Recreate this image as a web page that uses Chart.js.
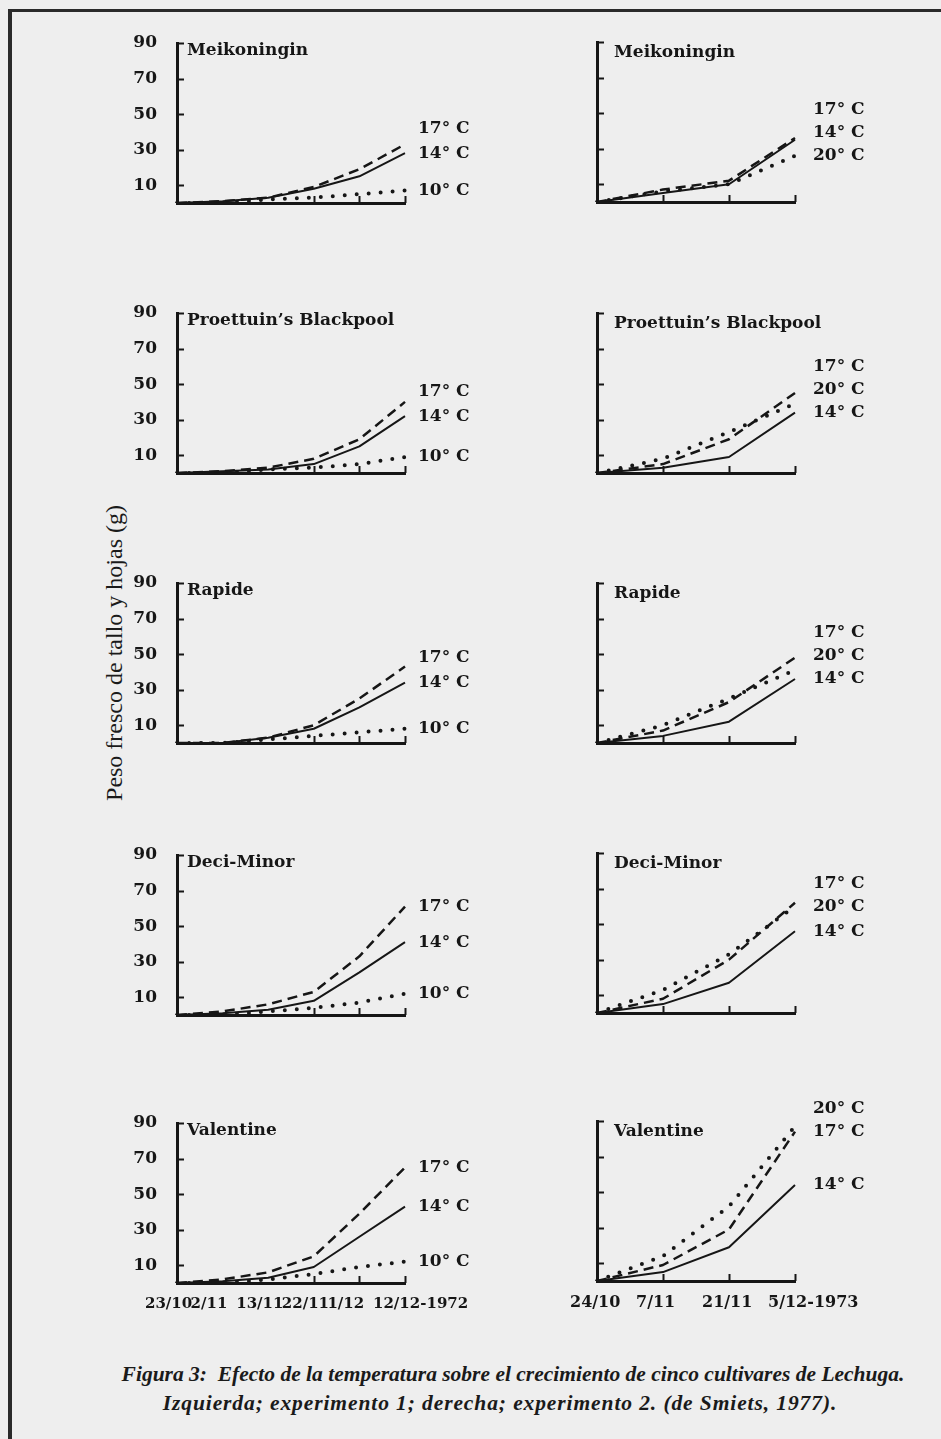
<!DOCTYPE html>
<html>
<head>
<meta charset="utf-8">
<script src="https://cdn.jsdelivr.net/npm/chart.js@4.4.1/dist/chart.umd.min.js"></script>
<style>
  body { margin: 0; background: #eeeeee; }
  #page { position: relative; width: 941px; height: 1439px; overflow: hidden; background: #eeeeee; }
  #frame { position: absolute; left: 8px; top: 9px; width: 940px; height: 1440px;
           border-left: 4px solid #2a2a2a; border-top: 3px solid #2a2a2a; }
  canvas { position: absolute; }
  #ytitle { position: absolute; left: -87px; top: 641px; width: 400px; height: 24px; line-height: 24px;
            text-align: center; transform: rotate(-90deg); font: 24px "Liberation Serif", serif; color: #1a1a1a; }
  .cap { position: absolute; width: 900px; text-align: center; white-space: nowrap;
         font: italic bold 21.5px "Liberation Serif", serif; line-height: 29px; color: #1a1a1a; }
  #cap1 { left: 63px; top: 1360px; }
  #cap2 { left: 50px; top: 1389px; letter-spacing: 0.9px; }
</style>
</head>
<body>
<div id="page">
  <div id="frame"></div>
  <div id="ytitle">Peso fresco de tallo y hojas (g)</div>
  <div class="cap" id="cap1">Figura 3:&nbsp; Efecto de la temperatura sobre el crecimiento de cinco cultivares de Lechuga.</div>
  <div class="cap" id="cap2">Izquierda; experimento 1; derecha; experimento 2. (de Smiets, 1977).</div>
</div>
<script>
// x categories and y ticks
const leftDates = ['23/10', '2/11', '13/11', '22/11', '1/12', '12/12-1972'];
const rightDates = ['24/10', '7/11', '21/11', '5/12-1973'];
const yTicks = [10, 30, 50, 70, 90];
const cultivars = ['Meikoningin', 'Proettuin\u2019s Blackpool', 'Rapide', 'Deci-Minor', 'Valentine'];

// experiment 1 (left), fresh weight in g
const meik1_10 = [0, 0, 2, 3, 5, 7];
const meik1_14 = [0, 1, 3, 8, 15, 28];
const meik1_17 = [0, 1, 3, 9, 19, 33];
const proe1_10 = [0, 0, 2, 3, 5, 9];
const proe1_14 = [0, 1, 2, 5, 15, 32];
const proe1_17 = [0, 1, 3, 8, 19, 40];
const rapi1_10 = [0, 0, 2, 4, 6, 8];
const rapi1_14 = [0, 0, 3, 8, 20, 34];
const rapi1_17 = [0, 0, 3, 10, 25, 43];
const deci1_10 = [0, 0, 2, 4, 7, 12];
const deci1_14 = [0, 1, 3, 8, 24, 41];
const deci1_17 = [0, 2, 6, 13, 33, 61];
const vale1_10 = [0, 0, 2, 5, 9, 12];
const vale1_14 = [0, 1, 3, 9, 26, 43];
const vale1_17 = [0, 2, 6, 15, 39, 65];

// experiment 2 (right)
const meik2_14 = [0, 5, 10, 35];
const meik2_17 = [0, 7, 12, 36];
const meik2_20 = [0, 6, 10, 26];
const proe2_14 = [0, 3, 9, 34];
const proe2_17 = [0, 5, 19, 45];
const proe2_20 = [0, 8, 23, 39];
const rapi2_14 = [0, 4, 12, 36];
const rapi2_17 = [0, 7, 23, 48];
const rapi2_20 = [0, 10, 25, 41];
const deci2_14 = [0, 5, 17, 46];
const deci2_17 = [0, 8, 30, 62];
const deci2_20 = [0, 13, 33, 60];
const vale2_14 = [0, 5, 19, 54];
const vale2_17 = [0, 9, 29, 84];
const vale2_20 = [0, 14, 42, 87];

const INK = '#161616';
const FONT = '"DejaVu Serif", serif';

function series(label, data, kind) {
    const s = { label: label, data: data, borderColor: INK, pointRadius: 0, tension: 0, fill: false, borderJoinStyle: 'round' };
    if (kind === 'dash') { s.borderWidth = 2.5; s.borderDash = [10, 6]; }
    else if (kind === 'dot') { s.borderWidth = 4; s.borderDash = [0, 12]; s.borderCapStyle = 'round'; }
    else { s.borderWidth = 2; }
    return s;
}

const panels = [
    { side: 'L', row: 0, sets: [series('10° C', meik1_10, 'dot'), series('14° C', meik1_14), series('17° C', meik1_17, 'dash')] },
    { side: 'L', row: 1, sets: [series('10° C', proe1_10, 'dot'), series('14° C', proe1_14), series('17° C', proe1_17, 'dash')] },
    { side: 'L', row: 2, sets: [series('10° C', rapi1_10, 'dot'), series('14° C', rapi1_14), series('17° C', rapi1_17, 'dash')] },
    { side: 'L', row: 3, sets: [series('10° C', deci1_10, 'dot'), series('14° C', deci1_14), series('17° C', deci1_17, 'dash')] },
    { side: 'L', row: 4, sets: [series('10° C', vale1_10, 'dot'), series('14° C', vale1_14), series('17° C', vale1_17, 'dash')] },
    { side: 'R', row: 0, sets: [series('14° C', meik2_14), series('17° C', meik2_17, 'dash'), series('20° C', meik2_20, 'dot')] },
    { side: 'R', row: 1, sets: [series('14° C', proe2_14), series('17° C', proe2_17, 'dash'), series('20° C', proe2_20, 'dot')] },
    { side: 'R', row: 2, sets: [series('14° C', rapi2_14), series('17° C', rapi2_17, 'dash'), series('20° C', rapi2_20, 'dot')] },
    { side: 'R', row: 3, sets: [series('14° C', deci2_14), series('17° C', deci2_17, 'dash'), series('20° C', deci2_20, 'dot')] },
    { side: 'R', row: 4, sets: [series('14° C', vale2_14), series('17° C', vale2_17, 'dash'), series('20° C', vale2_20, 'dot')] }
];

// short tick marks drawn inside the axes, like the printed figure
const innerTicks = {
    id: 'innerTicks',
    afterDraw(chart, args, opts) {
        const { ctx, chartArea: a, scales: { x, y } } = chart;
        ctx.save();
        ctx.strokeStyle = INK;
        ctx.lineWidth = 2;
        ctx.beginPath();
        yTicks.forEach(v => {
            const py = Math.round(y.getPixelForValue(v)) + 0.5;
            ctx.moveTo(a.left, py);
            ctx.lineTo(a.left + 7, py);
        });
        x.ticks.forEach((t, i) => {
            if (i < opts.from) return;
            const px = Math.round(x.getPixelForTick(i)) + 0.5;
            ctx.moveTo(px, a.bottom);
            ctx.lineTo(px, a.bottom - 7);
        });
        ctx.stroke();
        ctx.restore();
    }
};

// cultivar name + temperature labels at the line ends
const panelText = {
    id: 'panelText',
    afterDatasetsDraw(chart, args, opts) {
        const { ctx, chartArea: a, scales: { y } } = chart;
        ctx.save();
        ctx.fillStyle = INK;
        ctx.font = 'bold 17px ' + FONT;
        ctx.textBaseline = 'middle';
        ctx.textAlign = 'left';
        ctx.fillText(opts.title, a.left + opts.titleDx, a.top + opts.titleDy);
        const ends = chart.data.datasets.map(d => ({ label: d.label, y: y.getPixelForValue(d.data[d.data.length - 1]) }));
        ends.sort((p, q) => q.y - p.y);
        let prev = Infinity;
        ends.forEach(e => {
            const ly = Math.min(e.y, prev - opts.gap);
            ctx.fillText(e.label, a.right + opts.labelX, ly);
            prev = ly;
        });
        ctx.restore();
    }
};

const rowBottomL = [203, 473, 743, 1015, 1283];
const rowBottomR = [202, 473, 743, 1013, 1281];
const PLOT_H = 160, PAD_TOP = 30, PAD_RIGHT = 110;
const page = document.getElementById('page');

panels.forEach(p => {
    const isL = p.side === 'L';
    const canvasLeft = isL ? 100 : 560;
    const axisW = isL ? 77 : 37;
    const plotW = isL ? 228 : 198;
    const xH = p.row === 4 ? 48 : 2;
    const bottom = isL ? rowBottomL[p.row] : rowBottomR[p.row];
    const cv = document.createElement('canvas');
    cv.width = axisW + plotW + PAD_RIGHT;
    cv.height = PAD_TOP + PLOT_H + xH;
    cv.style.left = canvasLeft + 'px';
    cv.style.top = (bottom - PLOT_H - PAD_TOP) + 'px';
    page.appendChild(cv);

    new Chart(cv, {
        type: 'line',
        data: { labels: isL ? leftDates : rightDates, datasets: p.sets },
        options: {
            responsive: false,
            animation: false,
            devicePixelRatio: 1,
            layout: { padding: { top: PAD_TOP, right: PAD_RIGHT, left: 0, bottom: 0 } },
            plugins: {
                legend: { display: false },
                tooltip: { enabled: false },
                innerTicks: { from: isL ? 3 : 1 },
                panelText: {
                    title: cultivars[p.row],
                    titleDx: isL ? 10 : 17,
                    titleDy: isL ? 8 : 11,
                    labelX: isL ? 13 : 18,
                    gap: isL ? 25 : 23
                }
            },
            scales: {
                x: {
                    offset: false,
                    grid: { display: false, drawTicks: false },
                    border: { display: true, color: INK, width: 3 },
                    ticks: {
                        display: p.row === 4,
                        autoSkip: false,
                        maxRotation: 0,
                        minRotation: 0,
                        align: 'start',
                        labelOffset: isL ? -32 : -27,
                        padding: 12,
                        color: INK,
                        font: { family: FONT, weight: 'bold', size: isL ? 15 : 16 }
                    },
                    afterFit: s => { s.height = xH; s.paddingLeft = 0; s.paddingRight = 0; }
                },
                y: {
                    min: 0,
                    max: 90,
                    grid: { display: false, drawTicks: false },
                    border: { display: true, color: INK, width: 3 },
                    afterBuildTicks: s => { s.ticks = yTicks.map(v => ({ value: v })); },
                    ticks: {
                        display: isL,
                        padding: 20,
                        color: INK,
                        font: { family: FONT, weight: 'bold', size: 17 }
                    },
                    afterFit: s => { s.width = axisW; s.paddingTop = 0; s.paddingBottom = 0; }
                }
            }
        },
        plugins: [innerTicks, panelText]
    });
});
</script>
</body>
</html>
